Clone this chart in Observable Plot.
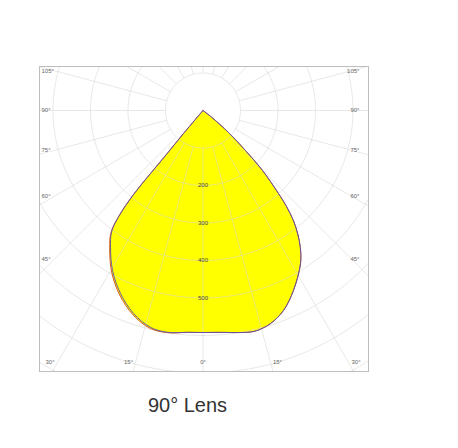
<!DOCTYPE html>
<html>
<head>
<meta charset="utf-8">
<script src="https://cdn.jsdelivr.net/npm/d3@7"></script>
<script src="https://cdn.jsdelivr.net/npm/@observablehq/plot@0.6"></script>
<style>
  html, body { margin: 0; padding: 0; background: #fff; }
  #wrap { width: 458px; height: 448px; position: relative; overflow: hidden; }
  #caption { position: absolute; left: 0; top: 395px; width: 375px; text-align: center;
    font-family: "Liberation Sans", Arial, sans-serif; font-size: 20px; line-height: 1; color: #333; }
</style>
</head>
<body>
<div id="wrap"><div id="chart"></div><div id="caption">90° Lens</div></div>
<script>
// ---- data (signed angle in degrees, negative = left; intensity in cd) ----
const curveAngles = [-40.5, -40.3, -39.8, -39.8, -39.6, -38.5, -37, -34, -29.5, -24.3, -18.9, -13.6, -9, -4, 0, 4, 8, 12, 14, 17.6, 21.9, 26.7, 32.5, 35.4, 37.5, 39.4, 41, 42.3, 44.8, 46.7, 49.2, 52, 55];
const intensityC0 = [0, 80, 150, 220, 290, 360, 405, 441, 490, 535, 572, 595, 599, 593, 592, 593, 598, 604, 604, 596, 575, 537, 484, 448, 415, 380, 340, 299, 225, 156, 90, 30, 0];
const intensityC90 = [0, 80, 150, 221, 291, 362, 408, 445, 495, 540, 576, 598, 600, 593, 592, 593, 598, 604, 604, 596, 575, 537, 484, 448, 415, 380, 340, 299, 225, 156, 90, 30, 0];
const intensityTicks = [200, 300, 400, 500];
const gridRadii = [100, 200, 300, 400, 500, 600, 700, 800];
const sideAngleLabels = [45, 60, 75, 90, 105];
const bottomAngleLabels = [0, 15, 30];

// ---- layout ----
const W = 458, H = 390, mL = 39, mR = 90, mT = 66, mB = 19;
const CX = 202.5, CY = 110, K = 0.375; // centre pixel, px per cd
const xDom = [-(CX - mL) / K, (W - mR - CX) / K];
const yDom = [-(CY - mT) / K, (H - mB - CY) / K];

const rad = d => d * Math.PI / 180;
const px = (a, r) => r * Math.sin(rad(a));
const py = (a, r) => r * Math.cos(rad(a));

const curve0 = curveAngles.map((a, i) => ({x: px(a, intensityC0[i]), y: py(a, intensityC0[i])}));
const curve90 = curveAngles.map((a, i) => ({x: px(a, intensityC90[i]), y: py(a, intensityC90[i])}));

const circles = gridRadii.flatMap(r => d3.range(0, 361, 2).map(a => ({r, x: px(a, r), y: py(a, r)})));
const spokes = d3.range(0, 360, 15).map(a => ({x1: px(a, 100), y1: py(a, 100), x2: px(a, 1400), y2: py(a, 1400)}));

const sideDist = 395;
const sideLabels = sideAngleLabels.flatMap(a => [
  {side: "L", y: sideDist / Math.tan(rad(a)), t: a + "°"},
  {side: "R", y: sideDist / Math.tan(rad(a)), t: a + "°"}
]);
const bottomDist = 741, bottomClamp = 408, bottomY = 672;
const bottomLabels = bottomAngleLabels.flatMap(a => {
  const x = Math.min(bottomDist * Math.tan(rad(a)), bottomClamp);
  return a === 0 ? [{x: 0, t: "0°"}] : [{x: -x, t: a + "°"}, {x: x, t: a + "°"}];
});

const gridStroke = "#d4d4d4", gridOp = 0.6;

const plot = Plot.plot({
  width: W, height: H,
  marginLeft: mL, marginRight: mR, marginTop: mT, marginBottom: mB,
  x: {domain: xDom, axis: null},
  y: {domain: yDom, range: [mT, H - mB], axis: null},
  style: {fontFamily: "Liberation Sans, Arial, sans-serif", fontSize: "6px", background: "#fff"},
  marks: [
    Plot.line(curve90, {x: "x", y: "y", fill: "#ffff00", stroke: "none", curve: "catmull-rom"}),
    Plot.line(curve0, {x: "x", y: "y", fill: "#ffff00", stroke: "none", curve: "catmull-rom"}),
    Plot.line(circles, {x: "x", y: "y", z: "r", stroke: gridStroke, strokeOpacity: gridOp, strokeWidth: 0.9, clip: true}),
    Plot.link(spokes, {x1: "x1", y1: "y1", x2: "x2", y2: "y2", stroke: gridStroke, strokeOpacity: gridOp, strokeWidth: 0.9, clip: true}),
    Plot.line(curve90, {x: "x", y: "y", stroke: "#d8602a", strokeWidth: 1, curve: "catmull-rom"}),
    Plot.line(curve0, {x: "x", y: "y", stroke: "#5a4cb0", strokeWidth: 1, strokeOpacity: 0.9, curve: "catmull-rom"}),
    Plot.text(intensityTicks, {x: 0, y: d => d, text: d => String(d), fill: "#444"}),
    Plot.text(sideLabels.filter(d => d.side === "L"), {x: xDom[0], y: "y", text: "t", textAnchor: "start", dx: 2, fill: "#666"}),
    Plot.text(sideLabels.filter(d => d.side === "R"), {x: xDom[1], y: "y", text: "t", textAnchor: "end", dx: -9, fill: "#666"}),
    Plot.text(bottomLabels, {x: "x", y: bottomY, text: "t", fill: "#666"}),
    Plot.frame({stroke: "#bdbdbd"})
  ]
});
document.getElementById("chart").appendChild(plot);
</script>
</body>
</html>
